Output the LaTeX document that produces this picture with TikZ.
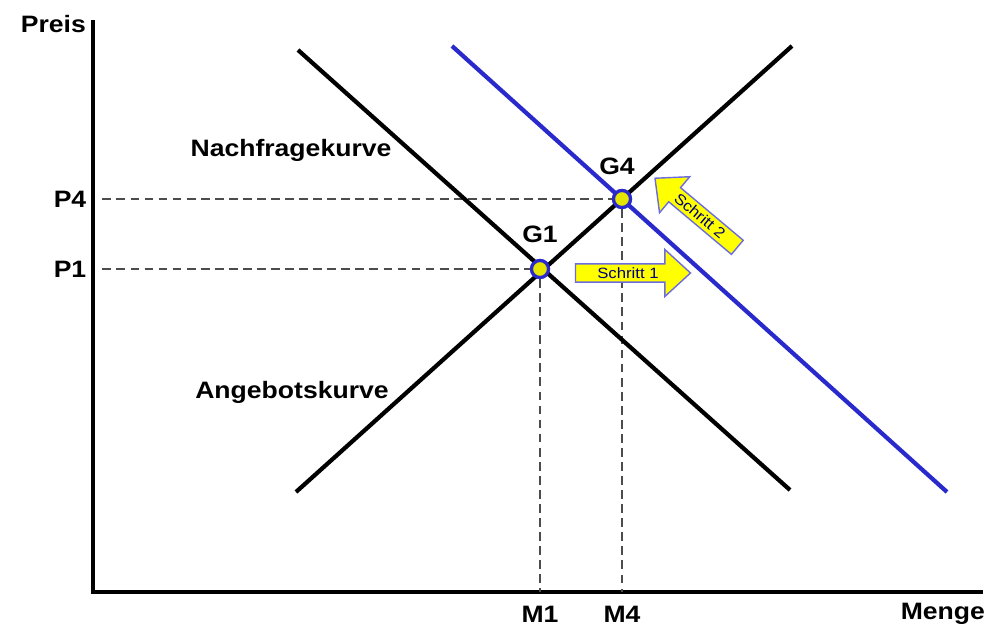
\documentclass[tikz,border=0pt]{standalone}
\usepackage{fontspec}
\setmainfont{Liberation Sans}[FakeStretch=1.12]
\usetikzlibrary{shapes.arrows,positioning}
\definecolor{shiftblue}{HTML}{2A2ACC}
\definecolor{stepyellow}{HTML}{FFFF00}
\definecolor{stepedge}{HTML}{6C6CE0}
\tikzset{
  curve/.style={line width=2.4pt, draw=black},
  shifted/.style={curve, draw=shiftblue},
  axis/.style={line width=2.4pt, draw=black},
  guide/.style={dashed, dash pattern=on 5pt off 3pt, line width=0.6pt, draw=black!70},
  eqpt/.style={circle, draw=shiftblue, fill=stepyellow!90!black, line width=1.8pt,
    minimum size=0.34cm, inner sep=0pt},
  lbl/.style={font=\bfseries\fontsize{13.5}{15}\selectfont, inner sep=1pt},
  stepbox/.style={single arrow, draw=stepedge, fill=stepyellow, line width=0.8pt,
    font=\fontsize{8.5}{9}\selectfont\color{black!55!blue}, minimum height=2.3cm,
    minimum width=0.94cm, single arrow head extend=0.22cm, inner sep=0.5pt,
    single arrow tip angle=85}
}
\begin{document}
\begin{tikzpicture}[x=0.02cm, y=-0.02cm]
  \useasboundingbox (0,0) rectangle (991,632);
  % axes
  \coordinate (origin) at (93,592);
  \coordinate (ytop) at (93,20);
  \coordinate (xend) at (983,592);
  \draw[axis] (ytop) -- (origin) -- (xend);
  \node[lbl, anchor=east] (preis) at (88,24) {Preis};
  \node[lbl, anchor=north east] (menge) at (987,601) {Menge};
  % equilibria
  \node[eqpt] (g1) at (540,269) {};
  \node[eqpt] (g4) at (622,199) {};
  \node[lbl] (p1) at (70,269) {P1};
  \node[lbl] (p4) at (70,199) {P4};
  \node[lbl] (m1) at (540,614) {M1};
  \node[lbl] (m4) at (622,614) {M4};
  % guide lines
  \draw[guide] (p1.east) ++(8pt,0) -- (g1);
  \draw[guide] (p4.east) ++(8pt,0) -- (g4);
  \draw[guide] (g1) -- (g1 |- origin);
  \draw[guide] (g4) -- (g4 |- origin);
  % curves
  \coordinate (dstart) at (298,50);
  \coordinate (dend) at (790,490);
  \coordinate (sstart) at (296,492);
  \coordinate (send) at (792,46);
  \coordinate (nstart) at (452,46);
  \coordinate (nend) at (947,492);
  \draw[curve] (dstart) -- (dend);
  \draw[curve] (sstart) -- (send);
  \draw[shifted] (nstart) -- (nend);
  \node[eqpt] at (g1) {};
  \node[eqpt] at (g4) {};
  \node[lbl] (g1lbl) at (540,234) {G1};
  \node[lbl] (g4lbl) at (617,166) {G4};
  \node[lbl] (nachfrage) at (291,150) {Nachfragekurve};
  \node[lbl] (angebot) at (292,392) {Angebotskurve};
  % steps
  \node[stepbox] (step1) at (628,273) {Schritt 1};
  \node[stepbox, rotate=-40, shape border rotate=180, minimum height=2.15cm] (step2) at (700,216) {Schritt 2};
\end{tikzpicture}
\end{document}
